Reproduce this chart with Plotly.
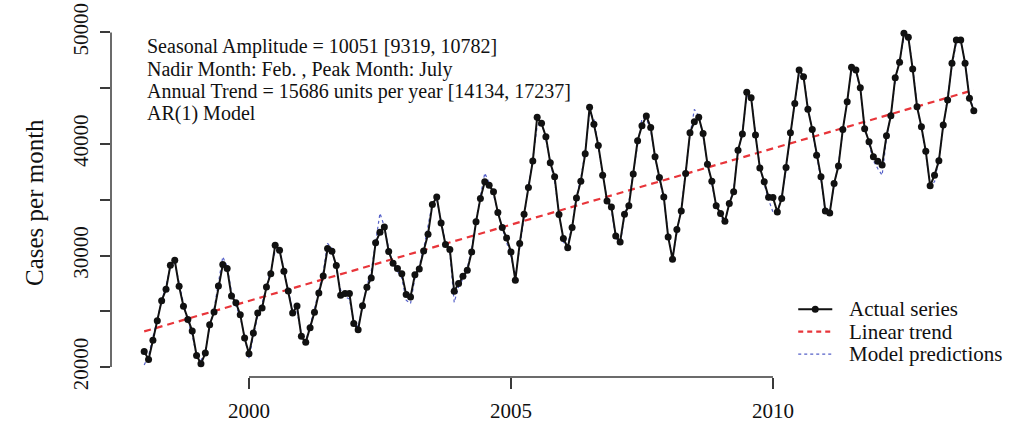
import numpy as np
import plotly.graph_objects as go

# ---------------- data ----------------
start_year = 1998
actual = [
    21410, 20690, 22400, 24160, 25960, 26970, 29130, 29580, 27240, 25450, 24280, 23230,
    21050, 20300, 21260, 23800, 24940, 27270, 29190, 28830, 26370, 25780, 24700, 22600,
    21200, 23050, 24850, 25300, 27180, 28380, 30920, 30480, 28590, 26820, 24850, 25480,
    22760, 22220, 23530, 24910, 26640, 28170, 30630, 30390, 29100, 26440, 26590, 26590,
    23900, 23360, 25500, 27150, 28000, 31150, 32080, 32570, 30360, 29310, 28830, 28380,
    26500, 26280, 28290, 28800, 30420, 31910, 34580, 35260, 32930, 30990, 30540, 26800,
    27490, 28140, 28680, 30330, 33020, 35120, 36610, 36310, 35710, 33860, 32510, 31580,
    30330, 27780, 31080, 33710, 36100, 38470, 42390, 41850, 40650, 38310, 37060, 33680,
    31530, 30700, 32510, 35170, 36670, 39120, 43290, 41760, 39870, 37210, 34900, 34360,
    31760, 31220, 33710, 34460, 37300, 40290, 41640, 42500, 41490, 38850, 37000, 35260,
    31670, 29670, 32330, 34000, 37360, 41010, 41990, 42390, 40950, 38190, 36670, 34460,
    33770, 33080, 34670, 35710, 39450, 40890, 44630, 44150, 40800, 37860, 36610, 35230,
    35210, 33910, 35120, 37900, 41010, 43640, 46630, 46030, 43110, 41310, 39000, 37060,
    34000, 33820, 36460, 38020, 41310, 43790, 46880, 46630, 45050, 41370, 40200, 38850,
    38460, 38110, 40740, 42530, 45940, 47330, 49930, 49570, 46720, 43340, 41540, 39360,
    36250, 37210, 38490, 41700, 43940, 47240, 49330, 49330, 47240, 44090, 42980,
]
predicted = [
    20200, 21000, 22700, 24400, 25900, 27300, 29000, 29400, 27500, 25700, 24100, 22900,
    21000, 20600, 21500, 23600, 25200, 27400, 29900, 29000, 26700, 25500, 24500, 22700,
    20800, 22800, 24600, 25700, 27100, 28700, 30400, 30700, 28700, 26900, 25100, 25000,
    23000, 22300, 23700, 25200, 26900, 28500, 31100, 30600, 28800, 26900, 26300, 26100,
    24100, 23600, 25400, 27300, 28600, 31300, 33800, 32600, 30600, 29200, 28600, 28000,
    26000, 25700, 28000, 29100, 30600, 32500, 34700, 35000, 33200, 31200, 30300, 25800,
    27200, 27900, 28900, 30600, 33200, 35300, 37400, 36500, 35500, 33800, 32400, 31200,
    29900, 28200, 30700, 33600, 36200, 38700, 41600, 42000, 40400, 38400, 36600, 33900,
    31200, 30900, 32700, 35300, 36900, 39400, 42800, 42300, 39700, 37200, 35100, 34100,
    31600, 31000, 33600, 34800, 37500, 40100, 42300, 42300, 41200, 38900, 36800, 35100,
    31900, 29800, 32200, 34300, 37500, 40800, 43100, 42500, 40700, 38300, 36400, 34500,
    33500, 33000, 34600, 36000, 39300, 41100, 44300, 44200, 40900, 38000, 36400, 35000,
    33900, 33900, 35300, 37700, 41000, 43800, 46300, 46100, 43300, 41200, 39000, 36800,
    33900, 34000, 36300, 38200, 41200, 43900, 46600, 46500, 44900, 41500, 40000, 38500,
    37800, 37200, 40500, 42700, 45600, 47500, 49500, 49600, 46900, 43500, 41400, 39100,
    36400, 36600, 38700, 41500, 44100, 47000, 49100, 49200, 47300, 44300, 43000,
]
trend_ends = [23200, 44840]          # linear trend value at first and last month
x_tick_vals = [2000, 2005, 2010]
y_tick_vals = [20000, 25000, 30000, 35000, 40000, 45000, 50000]
y_tick_text = ["20000", "", "30000", "", "40000", "", "50000"]

info_lines = [
    "Seasonal Amplitude = 10051 [9319, 10782]",
    "Nadir Month: Feb. , Peak Month: July",
    "Annual Trend = 15686 units per year [14134, 17237]",
    "AR(1) Model",
]
legend_labels = ["Actual series", "Linear trend", "Model predictions"]

# ---------------- figure ----------------
dates = start_year + np.arange(len(actual)) / 12.0
FONT = "Liberation Serif"
BLACK = "#111111"
RED = "#e8353a"
BLUE = "#5560c8"
AXIS = "#3a3a3a"

fig = go.Figure()
fig.add_trace(go.Scatter(x=[dates[0], dates[-1]], y=trend_ends, mode="lines",
                         line=dict(color=RED, width=2.2, dash="7px,5px"),
                         showlegend=False, hoverinfo="skip"))
fig.add_trace(go.Scatter(x=dates, y=predicted, mode="lines",
                         line=dict(color=BLUE, width=1.2, dash="dot"),
                         showlegend=False))
fig.add_trace(go.Scatter(x=dates, y=actual, mode="lines+markers",
                         line=dict(color=BLACK, width=2),
                         marker=dict(color=BLACK, size=7),
                         showlegend=False))

# R-style 4% axis padding
xr = dates[-1] - dates[0]
yr = max(actual) - min(actual)
x_range = [dates[0] - 0.04 * xr, dates[-1] + 0.04 * xr]
y_range = [min(actual) - 0.04 * yr, max(actual) + 0.04 * yr]

fig.update_layout(
    width=1031, height=424,
    margin=dict(l=111, r=24, t=20, b=47, pad=0),
    paper_bgcolor="white", plot_bgcolor="white",
    font=dict(family=FONT, size=21, color=BLACK),
    showlegend=False,
    xaxis=dict(range=x_range, showgrid=False, zeroline=False, showline=False,
               tickvals=x_tick_vals, ticks="outside", ticklen=11, tickwidth=1.5,
               tickcolor=AXIS, ticklabelstandoff=4, automargin=False,
               tickfont=dict(family=FONT, size=21, color=BLACK)),
    yaxis=dict(range=y_range, showgrid=False, zeroline=False, showline=False,
               tickvals=y_tick_vals, ticktext=y_tick_text, ticks="outside",
               ticklen=10, tickwidth=1.5, tickcolor=AXIS, tickangle=-90,
               ticklabelstandoff=4, automargin=False,
               tickfont=dict(family=FONT, size=21, color=BLACK)),
)

# axis lines spanning only the labelled ticks (R style)
fig.add_shape(type="line", xref="x", yref="paper", x0=x_tick_vals[0], x1=x_tick_vals[-1],
              y0=0, y1=0, line=dict(color=AXIS, width=1.5))
fig.add_shape(type="line", xref="paper", yref="y", x0=0, x1=0,
              y0=y_tick_vals[0], y1=y_tick_vals[-1], line=dict(color=AXIS, width=1.5))

# y title
fig.add_annotation(text="Cases per month", xref="paper", yref="paper", x=-0.086, y=0.49,
                   textangle=-90, showarrow=False, xanchor="center", yanchor="middle",
                   font=dict(family=FONT, size=25, color=BLACK))

# info text
info_y = [0.9258, 0.8627, 0.7997, 0.7367]
for txt, yy in zip(info_lines, info_y):
    fig.add_annotation(text=txt, xref="paper", yref="paper", x=0.039, y=yy,
                       xanchor="left", yanchor="middle", showarrow=False, borderpad=0,
                       font=dict(family=FONT, size=20, color=BLACK))

# manual legend (R legend without box)
leg_y = [0.190, 0.127, 0.064]
lx0, lx1, ltx = 0.767, 0.805, 0.822
styles = [dict(color=BLACK, width=2), dict(color=RED, width=2.2, dash="5px,4px"),
          dict(color=BLUE, width=1.2, dash="dot")]
for lab, yy, st in zip(legend_labels, leg_y, styles):
    fig.add_shape(type="line", xref="paper", yref="paper", x0=lx0, x1=lx1, y0=yy, y1=yy,
                  line=st)
    fig.add_annotation(text=lab, xref="paper", yref="paper", x=ltx, y=yy,
                       xanchor="left", yanchor="middle", showarrow=False, borderpad=0,
                       font=dict(family=FONT, size=21, color=BLACK))
# marker on the actual-series legend sample
mx = (lx0 + lx1) / 2
fig.add_shape(type="circle", xref="paper", yref="paper", x0=mx - 0.0039, x1=mx + 0.0039,
              y0=leg_y[0] - 0.0098, y1=leg_y[0] + 0.0098,
              fillcolor=BLACK, line=dict(color=BLACK, width=0))

fig.write_html("out.html", config={"displayModeBar": False},
               post_script="document.body.style.margin='0';document.body.style.overflow='hidden';")
